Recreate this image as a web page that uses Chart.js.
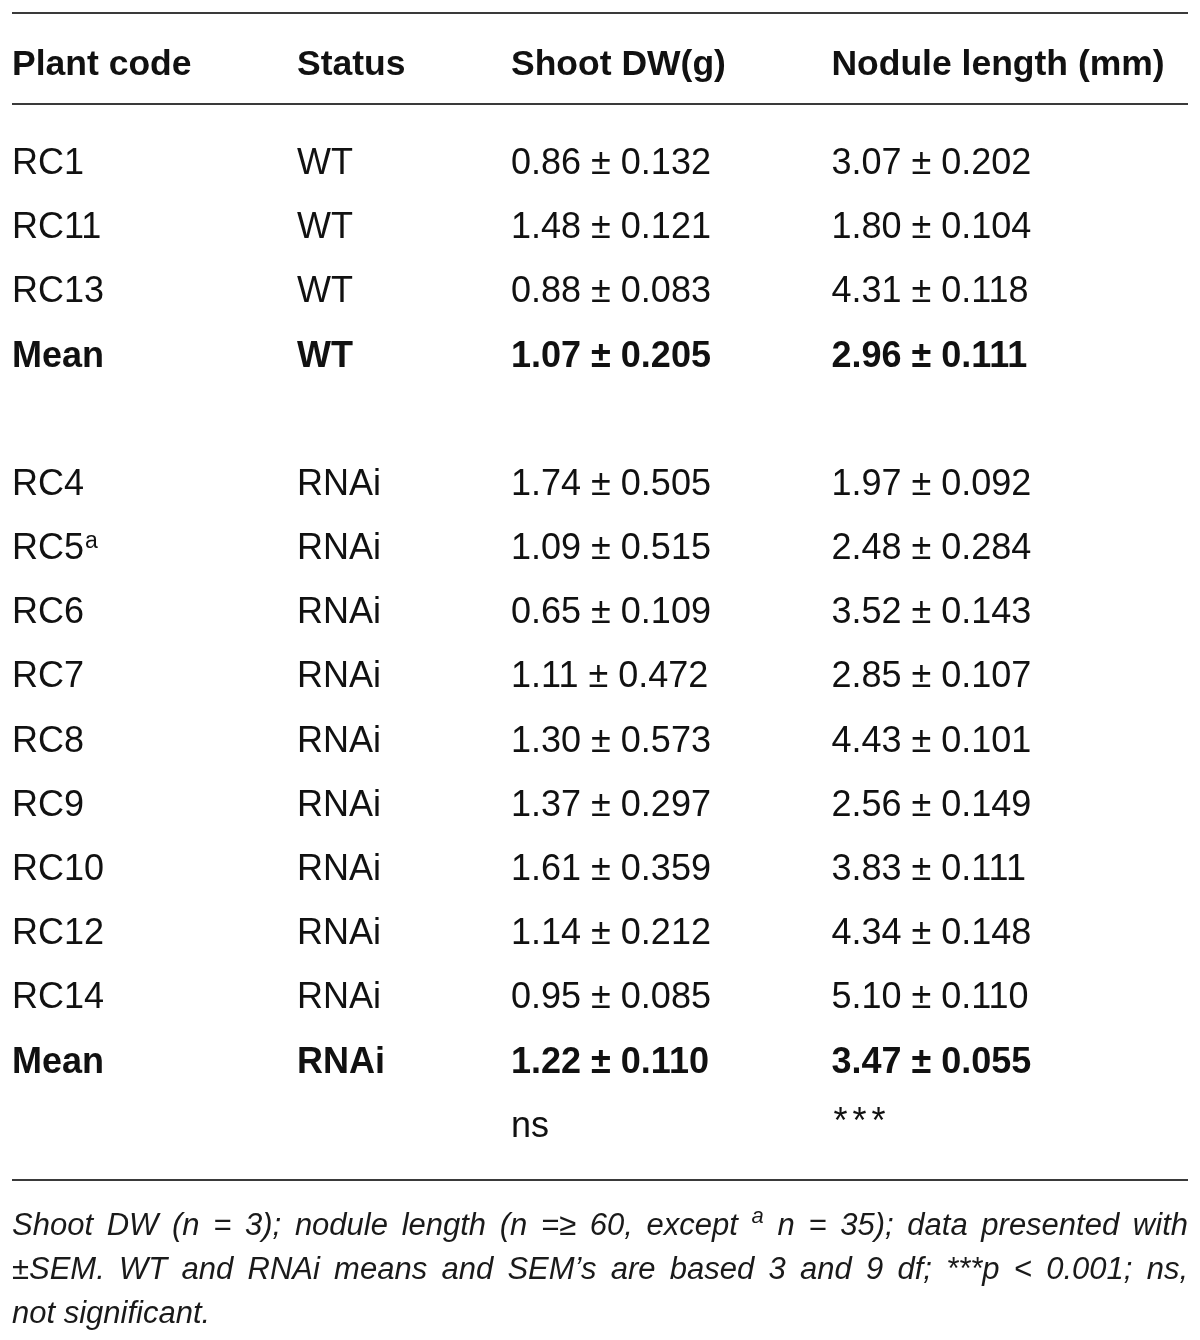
<!DOCTYPE html>
<html>
<head>
<meta charset="utf-8">
<script src="https://cdn.jsdelivr.net/npm/chart.js@4"></script>
<style>
  html, body { margin: 0; padding: 0; background: #ffffff; }
  #wrap { width: 1200px; height: 1340px; }
</style>
</head>
<body>
<div id="wrap"><canvas id="c" width="1200" height="1340"></canvas></div>
<script>
// ---------- DATA ----------
const headers = ['Plant code', 'Status', 'Shoot DW(g)', 'Nodule length (mm)'];
const plantCodes = ['RC1', 'RC11', 'RC13', 'Mean', '', 'RC4', 'RC5', 'RC6', 'RC7', 'RC8', 'RC9', 'RC10', 'RC12', 'RC14', 'Mean', ''];
const codeSuperscripts = ['', '', '', '', '', '', 'a', '', '', '', '', '', '', '', '', ''];
const statusLabels = ['WT', 'WT', 'WT', 'WT', '', 'RNAi', 'RNAi', 'RNAi', 'RNAi', 'RNAi', 'RNAi', 'RNAi', 'RNAi', 'RNAi', 'RNAi', ''];
const shootDW = [0.86, 1.48, 0.88, 1.07, null, 1.74, 1.09, 0.65, 1.11, 1.30, 1.37, 1.61, 1.14, 0.95, 1.22, null];
const shootSEM = [0.132, 0.121, 0.083, 0.205, null, 0.505, 0.515, 0.109, 0.472, 0.573, 0.297, 0.359, 0.212, 0.085, 0.110, null];
const noduleLength = [3.07, 1.80, 4.31, 2.96, null, 1.97, 2.48, 3.52, 2.85, 4.43, 2.56, 3.83, 4.34, 5.10, 3.47, null];
const noduleSEM = [0.202, 0.104, 0.118, 0.111, null, 0.092, 0.284, 0.143, 0.107, 0.101, 0.149, 0.111, 0.148, 0.110, 0.055, null];
const significance = ['ns', '***'];
const footnoteLines = [
  ['Shoot', 'DW', '(n', '=', '3);', 'nodule', 'length', '(n', '=≥', '60,', 'except', '^a', 'n', '=', '35);', 'data', 'presented', 'with'],
  ['±SEM.', 'WT', 'and', 'RNAi', 'means', 'and', 'SEM’s', 'are', 'based', '3', 'and', '9', 'df;', '***p', '<', '0.001;', 'ns,'],
  ['not', 'significant.']
];

// ---------- STYLE ----------
const FONT = '"Liberation Sans", Arial, Helvetica, sans-serif';
const style = {
  cellSize: 36,
  headSize: 35.5,
  footSize: 31,
  colGap: 105.5,
  headerCenter: 62,
  ruleYs: [13, 104, 1180],
  ruleColor: '#3a3a3a',
  ruleWidth: 2,
  textColor: '#111111',
  footColor: '#1a1a1a',
  footBaselines: [1235, 1279, 1323]
};

const rowIds = plantCodes.map((_, i) => 'row' + i);

function fmt(v, s) { return v.toFixed(2) + ' \u00B1 ' + s.toFixed(3); }

function cellsForRow(i) {
  const isLast = i === plantCodes.length - 1;
  return [
    { text: plantCodes[i], sup: codeSuperscripts[i] },
    { text: statusLabels[i] },
    { text: shootDW[i] != null ? fmt(shootDW[i], shootSEM[i]) : (isLast ? significance[0] : '') },
    { text: noduleLength[i] != null ? fmt(noduleLength[i], noduleSEM[i]) : (isLast ? significance[1] : ''), stars: isLast }
  ];
}

const tablePlugin = {
  id: 'tableText',
  afterDraw(chart) {
    const ctx = chart.ctx;
    const area = chart.chartArea;
    const yScale = chart.scales.y;
    ctx.save();
    ctx.textBaseline = 'alphabetic';
    ctx.textAlign = 'left';

    // column layout from measured text widths
    const nCols = headers.length;
    const widths = new Array(nCols).fill(0);
    ctx.font = 'bold ' + style.headSize + 'px ' + FONT;
    headers.forEach((h, c) => { widths[c] = Math.max(widths[c], ctx.measureText(h).width); });
    plantCodes.forEach((code, i) => {
      const bold = code === 'Mean';
      ctx.font = (bold ? 'bold ' : '') + style.cellSize + 'px ' + FONT;
      cellsForRow(i).forEach((cell, c) => {
        if (cell.stars) return;
        widths[c] = Math.max(widths[c], ctx.measureText(cell.text).width);
      });
    });
    const colX = [area.left];
    for (let c = 1; c < nCols; c++) colX.push(colX[c - 1] + widths[c - 1] + style.colGap);

    // rules
    ctx.strokeStyle = style.ruleColor;
    ctx.lineWidth = style.ruleWidth;
    style.ruleYs.forEach(y => {
      ctx.beginPath();
      ctx.moveTo(area.left, y);
      ctx.lineTo(area.right, y);
      ctx.stroke();
    });

    // header
    ctx.fillStyle = style.textColor;
    ctx.font = 'bold ' + style.headSize + 'px ' + FONT;
    const headBase = style.headerCenter + style.headSize * 0.716 / 2;
    headers.forEach((h, c) => ctx.fillText(h, colX[c], headBase));

    // body rows
    plantCodes.forEach((code, i) => {
      const yc = yScale.getPixelForValue(i);
      const base = yc + style.cellSize * 0.716 / 2;
      const bold = code === 'Mean';
      const font = (bold ? 'bold ' : '') + style.cellSize + 'px ' + FONT;
      cellsForRow(i).forEach((cell, c) => {
        if (!cell.text) return;
        if (cell.stars) {
          ctx.font = '36px ' + FONT;
          for (let k = 0; k < cell.text.length; k++) {
            ctx.fillText('*', colX[c] + 2 + k * 19, base - 4);
          }
          return;
        }
        ctx.font = font;
        ctx.fillText(cell.text, colX[c], base);
        if (cell.sup) {
          const w = ctx.measureText(cell.text).width;
          ctx.font = '23px ' + FONT;
          ctx.fillText(cell.sup, colX[c] + w + 1, base - 11);
        }
      });
    });

    // footnote (justified)
    ctx.fillStyle = style.footColor;
    const fFont = 'italic ' + style.footSize + 'px ' + FONT;
    const sFont = 'italic ' + Math.round(style.footSize * 0.7) + 'px ' + FONT;
    footnoteLines.forEach((words, li) => {
      const tokens = words.map(w => {
        const sup = w.startsWith('^');
        const t = sup ? w.slice(1) : w;
        ctx.font = sup ? sFont : fFont;
        return { t, sup, w: ctx.measureText(t).width };
      });
      ctx.font = fFont;
      const spaceW = ctx.measureText(' ').width;
      const total = tokens.reduce((s, k) => s + k.w, 0);
      const justify = li < footnoteLines.length - 1;
      const gap = justify ? (area.right - area.left - total) / (tokens.length - 1) : spaceW;
      let x = area.left;
      const base = style.footBaselines[li];
      tokens.forEach(k => {
        ctx.font = k.sup ? sFont : fFont;
        ctx.fillText(k.t, x, k.sup ? base - 12 : base);
        x += k.w + gap;
      });
    });

    ctx.restore();
  }
};

new Chart(document.getElementById('c'), {
  type: 'scatter',
  data: {
    labels: rowIds,
    datasets: [{
      label: 'rows',
      data: rowIds.map((id, i) => ({ x: 0, y: id })),
      pointRadius: 0,
      pointHoverRadius: 0,
      showLine: false
    }]
  },
  options: {
    responsive: false,
    animation: false,
    events: [],
    layout: { padding: { top: 129, bottom: 184, left: 12, right: 12 } },
    plugins: { legend: { display: false }, tooltip: { enabled: false } },
    scales: {
      x: { type: 'linear', min: 0, max: 1, display: false },
      y: { type: 'category', labels: rowIds, offset: true, display: false, grid: { display: false } }
    }
  },
  plugins: [tablePlugin]
});
</script>
</body>
</html>
